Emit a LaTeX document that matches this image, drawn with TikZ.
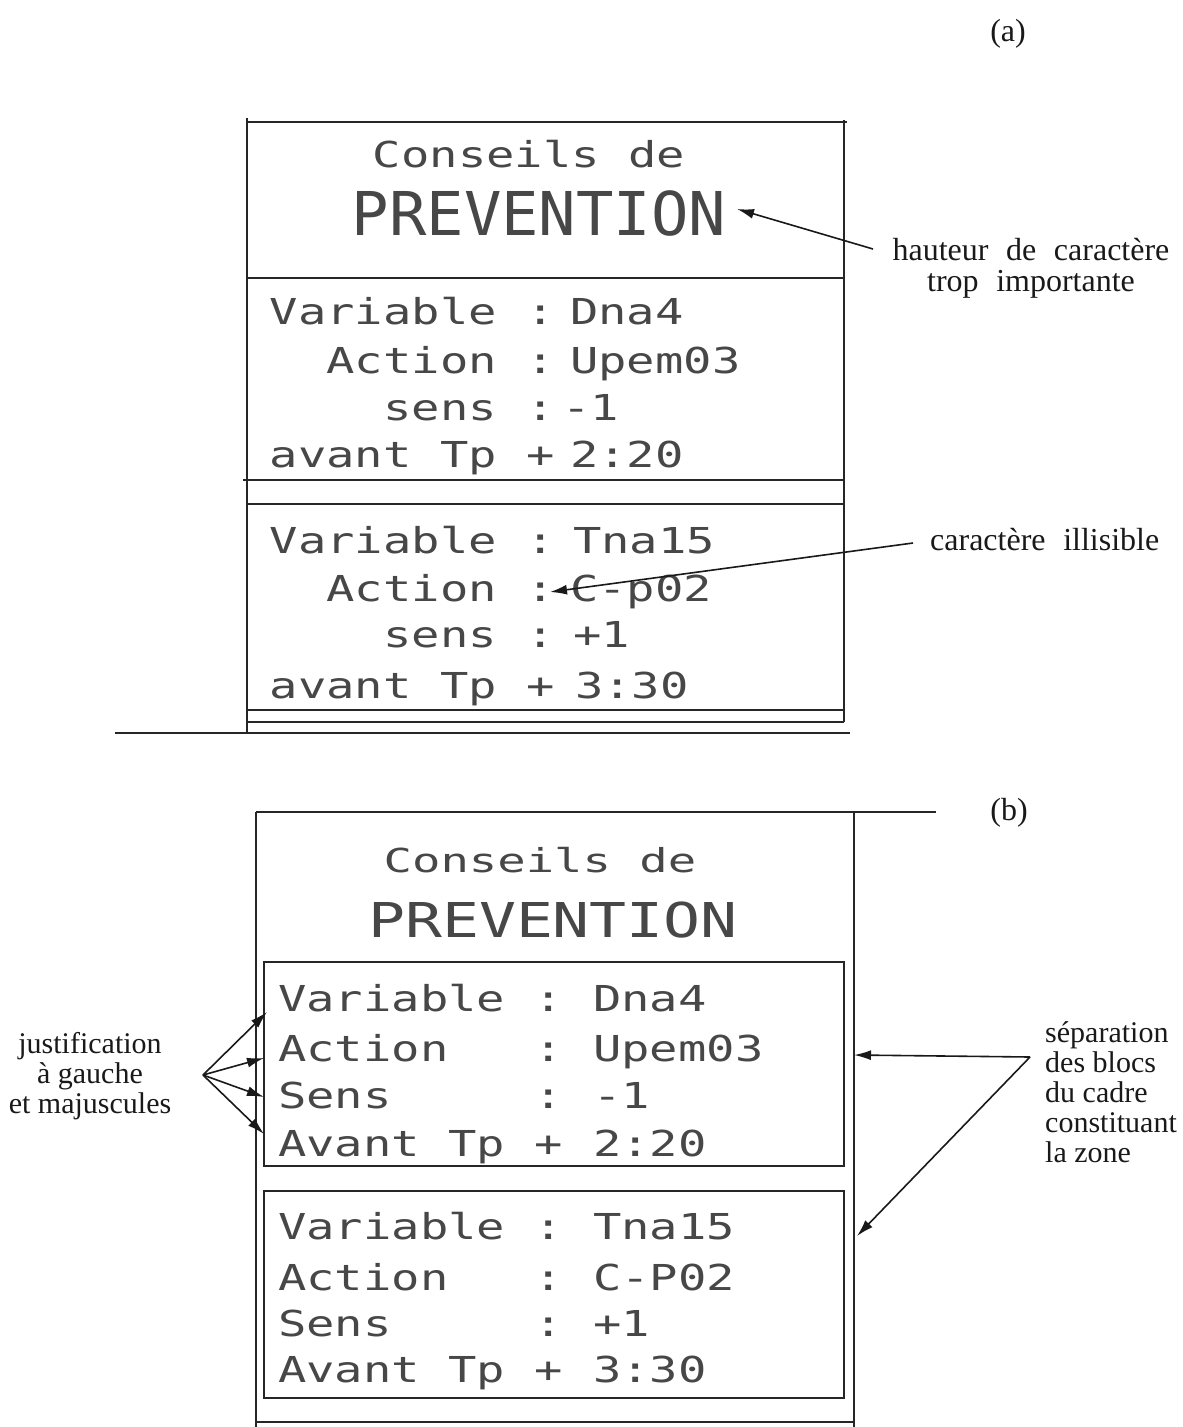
\documentclass[tikz,border=0pt]{standalone}
\usepackage{fontspec}
\usepackage{graphicx}
\setmainfont{Liberation Serif}
\newfontfamily\dotfont{DejaVu Sans Mono}
\usetikzlibrary{arrows.meta}
% dot-matrix text: #1 font size (pt), #2 horizontal scale, #3 text
\newcommand{\dmx}[3]{\scalebox{#2}[1]{\fontsize{#1}{#1}\selectfont\dotfont #3}}
\newcommand{\dmb}[1]{\dmx{35.7}{1.32}{#1}}
\newcommand{\wsp}{\hspace{.55em}}
\tikzset{
  frame/.style={line width=2.8pt, draw=black!85},
  dm/.style={inner sep=0pt, text=black!72},
  lbl/.style={dm, anchor=base east},
  lblb/.style={dm, anchor=base west},
  col/.style={dm, anchor=base},
  val/.style={dm, anchor=base west},
  note/.style={inner sep=0pt, text=black!90, font=\fontsize{32}{31}\selectfont},
  noteb/.style={inner sep=0pt, text=black!90, font=\fontsize{30}{30}\selectfont},
  arr/.style={line width=1.6pt, draw=black!90, -{Latex[length=17pt,width=10pt]}},
}
\begin{document}
\begin{tikzpicture}[x=1pt,y=-1pt]
\useasboundingbox (0,0) rectangle (1183,1427);

% ---------------- (a) ----------------
\node[note, anchor=center] (la) at (1008,34) {(a)};
\draw[frame] (247,122) -- (847,122);
\draw[frame] (247,118) -- (247,733);
\draw[frame] (844,120) -- (844,722);
\draw[frame] (247,278) -- (844,278);
\draw[frame] (243,480) -- (844,480);
\draw[frame] (247,504) -- (844,504);
\draw[frame] (247,710) -- (844,710);
\draw[frame] (247,722) -- (844,722);
\draw[frame] (115,733) -- (850,733);

\node[col] (ca) at (529,167) {\dmb{Conseils de}};
\node[col] (pa) at (539,235) {\dmx{60.4}{1.03}{PREVENTION}};

\node[lbl] (a1l) at (497,324) {\dmb{Variable}};
\node[col] (a1c) at (541,324) {\dmb{:}};
\node[val] (a1v) at (570,324) {\dmb{Dna4}};
\node[lbl] (a2l) at (497,373) {\dmb{Action}};
\node[col] (a2c) at (541,373) {\dmb{:}};
\node[val] (a2v) at (570,373) {\dmb{Upem03}};
\node[lbl] (a3l) at (497,420) {\dmb{sens}};
\node[col] (a3c) at (541,420) {\dmb{:}};
\node[val] (a3v) at (562,420) {\dmb{-1}};
\node[lbl] (a4l) at (497,467) {\dmb{avant Tp}};
\node[col] (a4c) at (541,467) {\dmb{+}};
\node[val] (a4v) at (570,467) {\dmb{2:20}};

\node[lbl] (a5l) at (497,553) {\dmb{Variable}};
\node[col] (a5c) at (541,553) {\dmb{:}};
\node[val] (a5v) at (573,553) {\dmb{Tna15}};
\node[lbl] (a6l) at (497,601) {\dmb{Action}};
\node[col] (a6c) at (541,601) {\dmb{:}};
\node[val] (a6v) at (570,601) {\dmb{C-p02}};
\node[lbl] (a7l) at (497,647) {\dmb{sens}};
\node[col] (a7c) at (541,647) {\dmb{:}};
\node[val] (a7v) at (573,647) {\dmb{+1}};
\node[lbl] (a8l) at (497,698) {\dmb{avant Tp}};
\node[col] (a8c) at (541,698) {\dmb{+}};
\node[val] (a8v) at (575,698) {\dmb{3:30}};

\node[note, anchor=base, align=center] (n1) at (1031,291)
  {hauteur\wsp de\wsp caractère\\ trop\wsp importante};
\node[note, anchor=base west] (n2) at (930,550)
  {caractère\wsp illisible};
\coordinate (n1s) at (873,249);
\coordinate (n1t) at (737,209);
\coordinate (n2s) at (913,543);
\coordinate (n2t) at (550,592);
\draw[arr] (n1s) -- (n1t);
\draw[arr] (n2s) -- (n2t);

% ---------------- (b) ----------------
\node[note, anchor=center] (lb) at (1009,813) {(b)};
\draw[frame] (256,812) -- (936,812);
\draw[frame] (256,812) -- (256,1427);
\draw[frame] (854,812) -- (854,1427);
\draw[frame] (264,962) rectangle (844,1166);
\draw[frame] (264,1191) rectangle (844,1398);
\draw[frame] (256,1422) -- (854,1422);

\node[col] (cb) at (540,872) {\dmx{33}{1.43}{Conseils de}};
\node[col] (pb) at (553,937) {\dmx{48}{1.28}{PREVENTION}};

\node[lblb] (b1l) at (278,1011) {\dmb{Variable}};
\node[col] (b1c) at (549,1011) {\dmb{:}};
\node[val] (b1v) at (593,1011) {\dmb{Dna4}};
\node[lblb] (b2l) at (278,1061) {\dmb{Action}};
\node[col] (b2c) at (549,1061) {\dmb{:}};
\node[val] (b2v) at (593,1061) {\dmb{Upem03}};
\node[lblb] (b3l) at (278,1108) {\dmb{Sens}};
\node[col] (b3c) at (549,1108) {\dmb{:}};
\node[val] (b3v) at (593,1108) {\dmb{-1}};
\node[lblb] (b4l) at (278,1156) {\dmb{Avant Tp}};
\node[col] (b4c) at (549,1156) {\dmb{+}};
\node[val] (b4v) at (593,1156) {\dmb{2:20}};

\node[lblb] (b5l) at (278,1239) {\dmb{Variable}};
\node[col] (b5c) at (549,1239) {\dmb{:}};
\node[val] (b5v) at (593,1239) {\dmb{Tna15}};
\node[lblb] (b6l) at (278,1290) {\dmb{Action}};
\node[col] (b6c) at (549,1290) {\dmb{:}};
\node[val] (b6v) at (593,1290) {\dmb{C-P02}};
\node[lblb] (b7l) at (278,1336) {\dmb{Sens}};
\node[col] (b7c) at (549,1336) {\dmb{:}};
\node[val] (b7v) at (593,1336) {\dmb{+1}};
\node[lblb] (b8l) at (278,1382) {\dmb{Avant Tp}};
\node[col] (b8c) at (549,1382) {\dmb{+}};
\node[val] (b8v) at (593,1382) {\dmb{3:30}};

\node[noteb, anchor=base, align=center] (n3) at (90,1113)
  {justification\\ à gauche\\ et majuscules};
\node[noteb, anchor=base west, align=left] (n4) at (1045,1162)
  {séparation\\ des blocs\\ du cadre\\ constituant\\ la zone};

\coordinate (n3s) at (203,1075);
\coordinate (t1) at (267,1012);
\coordinate (t2) at (264,1058);
\coordinate (t3) at (264,1097);
\coordinate (t4) at (264,1134);
\draw[arr] (n3s) -- (t1);
\draw[arr] (n3s) -- (t2);
\draw[arr] (n3s) -- (t3);
\draw[arr] (n3s) -- (t4);

\coordinate (n4s) at (1030,1057);
\coordinate (t5) at (854,1055);
\coordinate (t6) at (857,1236);
\draw[arr] (n4s) -- (t5);
\draw[arr] (n4s) -- (t6);
\end{tikzpicture}
\end{document}
